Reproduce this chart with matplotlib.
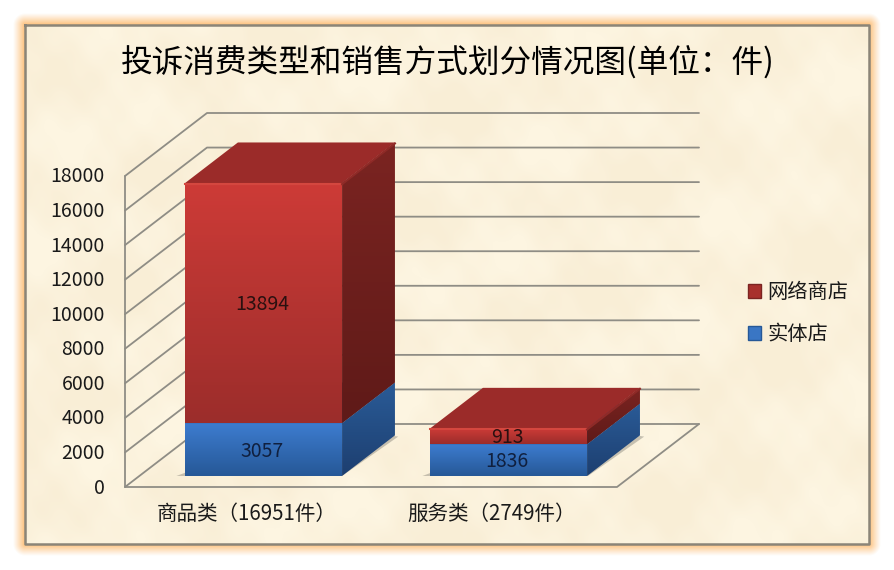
import numpy as np
import matplotlib
matplotlib.use("Agg")
import matplotlib.pyplot as plt
from matplotlib.colors import to_rgb, LinearSegmentedColormap
from matplotlib.patches import Polygon, Patch

plt.rcParams['font.family'] = ['Noto Sans CJK SC', 'DejaVu Sans']

# data
categories = ["商品类（16951件）", "服务类（2749件）"]
shop = [3057, 1836]
online = [13894, 913]
series_names = ["网络商店", "实体店"]
yticks = [0, 2000, 4000, 6000, 8000, 10000, 12000, 14000, 16000, 18000]
title = "投诉消费类型和销售方式划分情况图(单位：件)"

W, H = 895, 570
fig = plt.figure(figsize=(W / 100, H / 100), dpi=100)
ax = fig.add_axes([0, 0, 1, 1])
ax.set_xlim(0, W)
ax.set_ylim(H, 0)
ax.axis("off")

# oblique projection: category position, value, depth (0 front, 1 back) -> pixels
X0, Y0 = 125, 487
CAT_W = 246
PX_PER_VAL = 311 / 18000
DX, DY = 82, -63


def proj(cat, val, depth=0):
    return (X0 + cat * CAT_W + depth * DX, Y0 - val * PX_PER_VAL + depth * DY)


def gradient(pts, c1, c2, zorder=3):
    # vertical colour gradient clipped to a polygon
    pts = np.array(pts)
    cmap = LinearSegmentedColormap.from_list("g", [c1, c2])
    x1, x2 = pts[:, 0].min(), pts[:, 0].max()
    y1, y2 = pts[:, 1].min(), pts[:, 1].max()
    im = ax.imshow(np.linspace(0, 1, 64).reshape(-1, 1), cmap=cmap, aspect="auto",
                   extent=(x1, x2, y2, y1), zorder=zorder)
    clip = Polygon(pts, transform=ax.transData, fc="none", ec="none")
    ax.add_patch(clip)
    im.set_clip_path(clip)


# page: white, soft orange glow, parchment panel
L, T, R, B = 25, 25, 869, 544
xx, yy = np.meshgrid(np.arange(W) + .5, np.arange(H) + .5)
dist = np.hypot(np.maximum(np.maximum(L - xx, xx - R), 0),
                np.maximum(np.maximum(T - yy, yy - B), 0))
glow = np.zeros((H, W, 4))
glow[..., :3] = to_rgb("#fdc07a")
glow[..., 3] = np.clip(1 - dist / 12, 0, 1) ** 1.1
ax.imshow(glow, extent=(0, W, H, 0), aspect="auto", zorder=0)

mott = (np.sin(xx / 37 + yy / 61) + np.sin(xx / 19 - yy / 23 + 1.3)
        + np.sin(xx / 83 + yy / 17 + 2.1) + np.sin(xx / 7.3 + yy / 11.1) * .4
        + np.sin(xx / 5.1 - yy / 6.7 + .7) * .3) / 3.7
paper = np.zeros((H, W, 3))
for i, (a, b) in enumerate(zip(to_rgb("#fdf5e1"), to_rgb("#f9eed6"))):
    paper[..., i] = a + (b - a) * np.clip(.5 + mott * .9, 0, 1)
panel = ax.imshow(paper[T:B, L:R], extent=(L, R, B, T), aspect="auto", zorder=0.5)
ax.plot([L, R, R, L, L], [T, T, B, B, T], color="#8b8578", lw=1.8, zorder=1)

ax.text(448, 63, title, fontsize=22.8, ha="center", va="center", color="black",
        fontweight="medium", zorder=6)

# walls and floor
grid = dict(color="#8f8d85", lw=1.3, zorder=2, solid_capstyle="round")
for v in yticks:
    p0, p1, p2 = proj(0, v), proj(0, v, 1), proj(2, v, 1)
    ax.plot([p0[0], p1[0], p2[0]], [p0[1], p1[1], p2[1]], **grid)
    ax.text(105, p0[1] + 1, str(v), ha="right", va="center", fontsize=14,
            color="#1a1a1a", zorder=6)
a, b = proj(0, 0), proj(0, yticks[-1])
ax.plot([a[0], b[0]], [a[1], b[1]], **grid)
c, d = proj(2, 0), proj(2, 0, 1)
ax.plot([a[0], c[0], d[0]], [a[1], c[1], d[1]], **grid)

# bars
BAR_L, BAR_R = 0.1856, 0.824
D1, D2 = 0.175, 0.82
red = dict(front=("#cd3b37", "#9c2d2b"), side=("#7b2421", "#5f1a18"), top="#9b2b29")
blue = dict(front=("#3d7ccf", "#265897"), side=("#2a5b97", "#1d3f70"), top="#2a5b97")


def box(i, v0, v1, col):
    l, r = i + BAR_L - (0.004 if i else 0), i + BAR_R - (0.004 if i else 0)
    fl, fr = proj(l, v0, D1), proj(r, v0, D1)
    tl, tr = proj(l, v1, D1), proj(r, v1, D1)
    br0, br1 = proj(r, v0, D2), proj(r, v1, D2)
    bl1 = proj(l, v1, D2)
    gradient([fl, fr, tr, tl], *col["front"])
    gradient([fr, br0, br1, tr], *col["side"])
    ax.add_patch(Polygon([tl, tr, br1, bl1], fc=col["top"], ec="none", zorder=3))
    return tl, tr, br1


for i in range(len(categories)):
    # soft floor shadow behind each bar
    l, r = i + BAR_L, i + BAR_R
    ax.add_patch(Polygon([proj(l - .035, 0, D1), proj(r, 0, D1), proj(r + .02, 0, D2 - .02),
                          proj(r - .02, 0, D2), proj(l, 0, D1 + .1)],
                         fc="#77756c", alpha=.4, ec="none", zorder=2.5))
    box(i, 0, shop[i], blue)
    tl, tr, br = box(i, shop[i], shop[i] + online[i], red)
    # light bevel along the top front edge
    ax.plot([tl[0], tr[0]], [tl[1] + 1, tr[1] + 1], color="#d4473f", lw=1.5, zorder=4)
    ax.plot([tr[0], br[0]], [tr[1] + 1, br[1] + 1], color="#8f2a27", lw=1.5, zorder=4)

    x = proj(i + (BAR_L + BAR_R) / 2 - (0.004 if i else 0), 0, D1)[0]
    ax.text(x - 2, proj(0, shop[i] / 2, D1)[1] + 1.5, str(shop[i]), ha="center", va="center",
            fontsize=14, color="#10203f", zorder=6)
    ax.text(x - 1, proj(0, shop[i] + online[i] / 2, D1)[1] + 1.5, str(online[i]), ha="center", va="center",
            fontsize=14, color="#2a1010", zorder=6)
    ax.text(proj(i + .479 - (.005 if i else 0), 0)[0] + 4, 514, categories[i], ha="center", va="center",
            fontsize=14.8, color="#1a1a1a", zorder=6)

# legend
handles = [Patch(fc="#a8302c", ec="#7b2421", lw=1), Patch(fc="#3a76c4", ec="#265897", lw=1)]
ax.legend(handles, series_names, loc="upper left", bbox_to_anchor=(748, 282),
          bbox_transform=ax.transData, frameon=False, fontsize=14.6, handlelength=.65,
          handleheight=.65, handletextpad=.3, labelspacing=1.05, labelcolor="#1a1a1a",
          borderpad=0, borderaxespad=0)

ax.set_xlim(0, W)
ax.set_ylim(H, 0)
fig.savefig("out.png", dpi=100, facecolor="white")
